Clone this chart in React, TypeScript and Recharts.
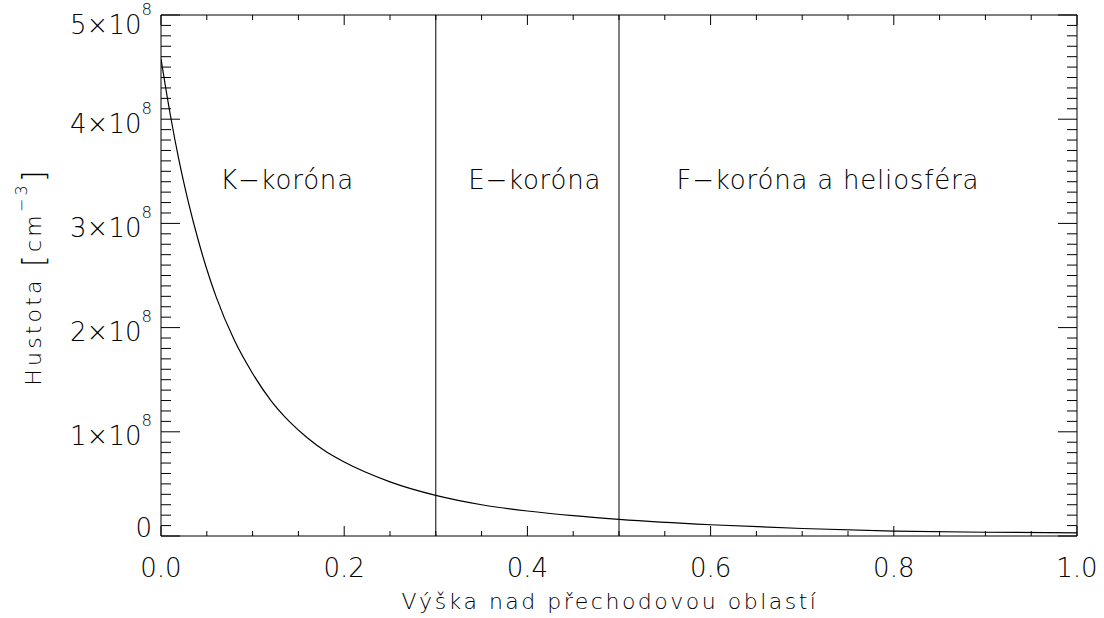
import React from 'react';
import { LineChart, Line, XAxis, YAxis, ReferenceLine, ReferenceDot, Label } from 'recharts';

// Height above transition region (x) and density (y, cm^-3)
const heights = [0, 0.01, 0.02, 0.03, 0.04, 0.05, 0.06, 0.08, 0.1, 0.12, 0.14, 0.16, 0.18, 0.2, 0.25, 0.3, 0.35, 0.4, 0.45, 0.5, 0.6, 0.7, 0.8, 0.9, 1.0];
const densities = [4.58e8, 4.05e8, 3.59e8, 3.2e8, 2.86e8, 2.56e8, 2.3e8, 1.88e8, 1.56e8, 1.3e8, 1.1e8, 0.94e8, 0.81e8, 0.71e8, 0.52e8, 0.39e8, 0.3e8, 0.24e8, 0.195e8, 0.16e8, 0.108e8, 0.072e8, 0.047e8, 0.036e8, 0.03e8];

// Region boundaries and labels
const boundaries = [0.3, 0.5];
const regionNames = ['K\u2212koróna', 'E\u2212koróna', 'F\u2212koróna a heliosféra'];
const regionX = [0.1376, 0.408, 0.728];
const regionY = [3.42e8, 3.42e8, 3.42e8];

// Ticks
const xMajorTicks = [0, 0.2, 0.4, 0.6, 0.8, 1.0];
const xMinorTicks = [0.05, 0.1, 0.15, 0.25, 0.3, 0.35, 0.45, 0.5, 0.55, 0.65, 0.7, 0.75, 0.85, 0.9, 0.95];
const yMajorTicks = [0, 1e8, 2e8, 3e8, 4e8, 5e8];
const yMinorPerMajor = 10;

const xTitle = 'Výška nad přechodovou oblastí';
const yTitleMain = 'Hustota ';
const yTitleOpen = '[';
const yTitleUnit = 'cm';
const yTitleExp = '\u22123';
const yTitleEnd = ']';

const data = heights.map((h, i) => ({ h, n: densities[i] }));
const xTicks = [...xMajorTicks, ...xMinorTicks].sort((a, b) => a - b);
const yTicks: number[] = [];
for (let i = 0; i < yMajorTicks.length - 1; i++) {
  const a = yMajorTicks[i];
  const b = yMajorTicks[i + 1];
  for (let j = 0; j < yMinorPerMajor; j++) yTicks.push(a + ((b - a) * j) / yMinorPerMajor);
}
yTicks.push(yMajorTicks[yMajorTicks.length - 1]);

const FONT = '"DejaVu Sans", sans-serif';
const TXT = '#000';
const isXMajor = (v: number) => xMajorTicks.some((m) => Math.abs(m - v) < 1e-6);
const isYMajor = (v: number) => yMajorTicks.some((m) => Math.abs(m - v) < 1);

function XBottomTick(props: any) {
  const { x, y, payload } = props;
  const major = isXMajor(payload.value);
  return (
    <g>
      <line x1={x} x2={x} y1={y} y2={y - (major ? 10 : 5)} stroke="#000" strokeWidth={1} />
      {major && (
        <text x={x} y={y + 41} textAnchor="middle" fontFamily={FONT} fontWeight={200} fontSize={26} fill={TXT}>
          {payload.value.toFixed(1)}
        </text>
      )}
    </g>
  );
}

function XTopTick(props: any) {
  const { x, y, payload } = props;
  const major = isXMajor(payload.value);
  return <line x1={x} x2={x} y1={y} y2={y + (major ? 10 : 5)} stroke="#000" strokeWidth={1} />;
}

function YLeftTick(props: any) {
  const { x, y, payload } = props;
  const v = payload.value;
  const major = isYMajor(v);
  const k = Math.round(v / 1e8);
  const top = k === yMajorTicks.length - 1;
  const dy = k === 0 ? -9 : top ? 9 : 4;
  return (
    <g>
      <line x1={x} x2={x + (major ? 19 : 10)} y1={y} y2={y} stroke="#000" strokeWidth={1} />
      {major && (
        <text x={x - 9} y={y + dy + 9.5} textAnchor="end" fontFamily={FONT} fontWeight={200} fontSize={26} fill={TXT}>
          {k === 0 ? (
            '0'
          ) : (
            <>
              {`${k}×10`}
              <tspan dy={-19} fontSize={16.5}>8</tspan>
            </>
          )}
        </text>
      )}
    </g>
  );
}

function YRightTick(props: any) {
  const { x, y, payload } = props;
  const major = isYMajor(payload.value);
  return <line x1={x} x2={x - (major ? 19 : 10)} y1={y} y2={y} stroke="#000" strokeWidth={1} />;
}

const XTitle = (props: any) => {
  const vb = props.viewBox;
  return (
    <text x={vb.x + vb.width / 2 - 9} y={609} textAnchor="middle" fontFamily={FONT} fontWeight={200} fontSize={22} letterSpacing={2.5} fill={TXT}>
      {xTitle}
    </text>
  );
};

const YTitle = () => {
  const cy = 15 + (536 - 15) / 2 + 1;
  const cx = 41;
  return (
    <text x={cx} y={cy} transform={`rotate(-90 ${cx} ${cy})`} textAnchor="middle" fontFamily={FONT} fontWeight={200} fontSize={22} letterSpacing={3.2} fill={TXT}>
      {yTitleMain}
      <tspan fontSize={30} dy={3}>{yTitleOpen}</tspan>
      <tspan fontSize={22} dy={-3}>{yTitleUnit}</tspan>
      <tspan dy={-14} fontSize={16}>{yTitleExp}</tspan>
      <tspan dy={17} fontSize={30}>{yTitleEnd}</tspan>
    </text>
  );
};

export default function App() {
  return (
    <>
      <style>{`html,body{margin:0;padding:0;overflow:hidden;background:#fff}`}</style>
      <LineChart width={1104} height={618} data={data} margin={{ top: 0, right: 0, bottom: 0, left: 0 }}>
        <XAxis
          dataKey="h"
          type="number"
          domain={[0, 1]}
          allowDataOverflow
          ticks={xTicks}
          interval={0}
          tickSize={0}
          tickMargin={0}
          tickLine={false}
          axisLine={{ stroke: '#000', strokeWidth: 1 }}
          tick={<XBottomTick />}
          height={82}
        >
          <Label content={<XTitle />} />
        </XAxis>
        <XAxis
          xAxisId="top"
          orientation="top"
          dataKey="h"
          type="number"
          domain={[0, 1]}
          allowDataOverflow
          ticks={xTicks}
          interval={0}
          tickSize={0}
          tickMargin={0}
          tickLine={false}
          axisLine={{ stroke: '#000', strokeWidth: 1 }}
          tick={<XTopTick />}
          height={15}
        />
        <YAxis
          type="number"
          domain={[0, 5e8]}
          allowDataOverflow
          ticks={yTicks}
          interval={0}
          tickSize={0}
          tickMargin={0}
          tickLine={false}
          axisLine={{ stroke: '#000', strokeWidth: 1 }}
          tick={<YLeftTick />}
          width={161}
        >
          <Label content={<YTitle />} />
        </YAxis>
        <YAxis
          yAxisId="right"
          orientation="right"
          type="number"
          domain={[0, 5e8]}
          allowDataOverflow
          ticks={yTicks}
          interval={0}
          tickSize={0}
          tickMargin={0}
          tickLine={false}
          axisLine={{ stroke: '#000', strokeWidth: 1 }}
          tick={<YRightTick />}
          width={27}
        />
        {boundaries.map((b) => (
          <ReferenceLine key={b} x={b} stroke="#000" strokeWidth={1} />
        ))}
        {regionNames.map((name, i) => (
          <ReferenceDot
            key={name}
            x={regionX[i]}
            y={regionY[i]}
            r={0}
            shape={(p: any) => (
              <text x={p.cx} y={p.cy + 9.5} textAnchor="middle" fontFamily={FONT} fontWeight={200} fontSize={26} letterSpacing={0.8} fill={TXT}>
                {name}
              </text>
            )}
          />
        ))}
        <Line dataKey="n" type="monotone" stroke="#000" strokeWidth={1.2} dot={false} isAnimationActive={false} />
      </LineChart>
    </>
  );
}
